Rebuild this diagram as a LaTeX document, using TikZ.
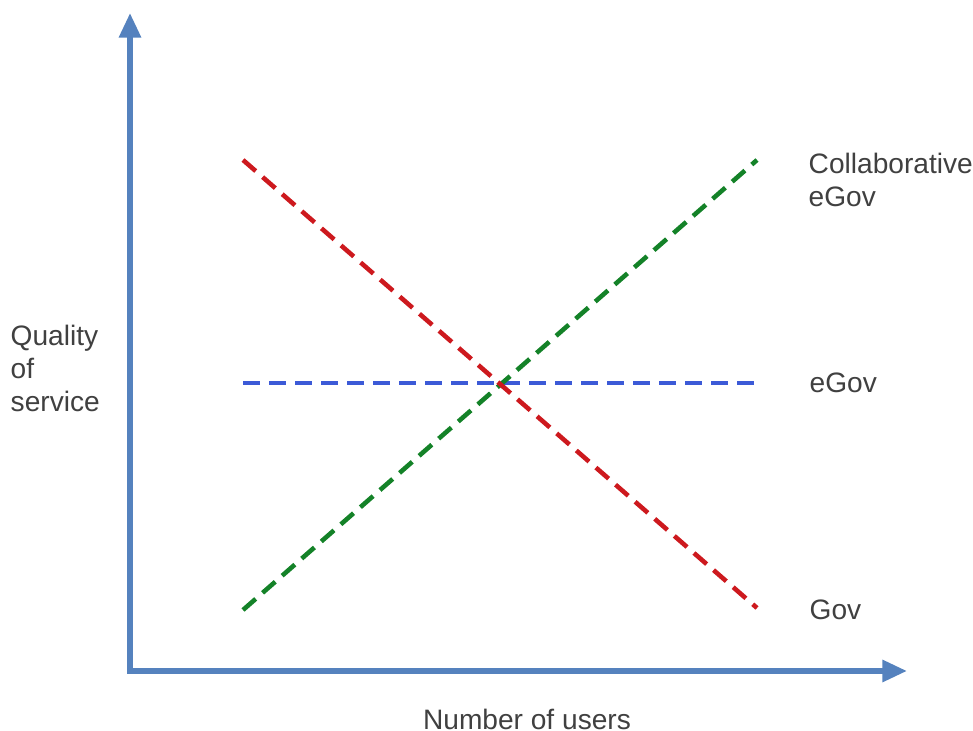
\documentclass[tikz,border=0pt]{standalone}
\usepackage{fontspec}
\setmainfont{Liberation Sans}
\usetikzlibrary{arrows.meta}

\begin{document}
\begin{tikzpicture}
	\path [use as bounding box] (0,0) rectangle (9.73,7.31);
	\definecolor{axisblue}{RGB}{85,130,190}
	\definecolor{govred}{RGB}{205,25,30}
	\definecolor{collabgreen}{RGB}{20,130,40}
	\definecolor{egovblue}{RGB}{60,90,215}
	\tikzset{
		axis/.style = {line width=1.6pt, axisblue, {Triangle[width=6pt,length=7pt]}-{Triangle[width=6pt,length=7pt]}},
		trend/.style = {line width=1.3pt, dash pattern=on 4.8pt off 2.6pt},
		label/.style = {font=\fontsize{8}{9.4}\selectfont, text=black!75, inner sep=0pt, align=left}
	}
	\coordinate (O) at (1.30,0.60);
	\coordinate (Ytop) at (1.30,7.18);
	\coordinate (Xend) at (9.07,0.60);
	\coordinate (A) at (2.43,5.71);
	\coordinate (B) at (7.57,1.23);
	\coordinate (C) at (2.43,1.21);
	\coordinate (D) at (7.57,5.71);
	\coordinate (E) at (2.43,3.48);
	\coordinate (F) at (7.57,3.48);
	\draw[axis] (Ytop) -- (O) -- (Xend);
	\draw[trend, egovblue] (E) -- (F);
	\draw[trend, collabgreen] (C) -- (D);
	\draw[trend, govred] (A) -- (B);
	\node[label, anchor=west] (collab) at (8.08,5.51) {Collaborative\\eGov};
	\node[label, anchor=west] (egov) at (8.09,3.48) {eGov};
	\node[label, anchor=west] (gov) at (8.09,1.21) {Gov};
	\node[label, anchor=west] (quality) at (0.10,3.63) {Quality\\of\\service};
	\node[label] (users) at (5.27,0.12) {Number of users};
\end{tikzpicture}
\end{document}
